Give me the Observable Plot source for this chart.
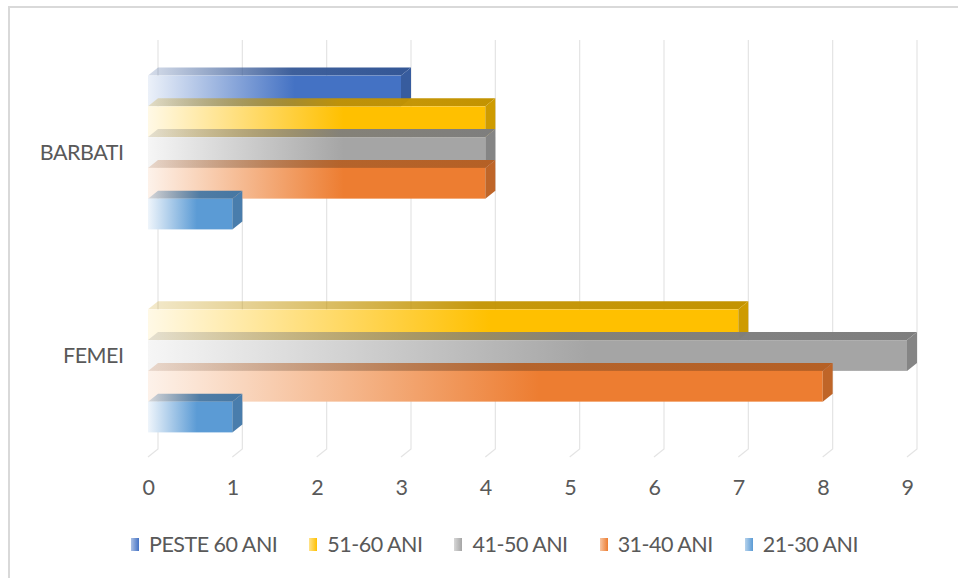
<!DOCTYPE html>
<html><head><meta charset="utf-8">
<script src="https://cdn.jsdelivr.net/npm/d3@7"></script>
<script src="https://cdn.jsdelivr.net/npm/@observablehq/plot@0.6"></script>
<style>
body{margin:0;background:#fff;}
#wrap{position:relative;width:958px;height:578px;overflow:hidden;font-family:Lato,"Open Sans",sans-serif;color:#595959;}
#border{position:absolute;left:8px;top:6px;width:1000px;height:1000px;border-left:2px solid #d9d9d9;border-top:2px solid #d9d9d9;}
#chart{position:absolute;left:0;top:0;}
#legend{position:absolute;left:131px;top:531px;display:flex;align-items:center;font-size:21.5px;letter-spacing:-0.5px;line-height:26px;white-space:nowrap;}
.item{display:flex;align-items:center;margin-right:32px;}
.sw{width:8px;height:13px;margin-right:10px;}
</style></head><body>
<div id="wrap"><div id="border"></div><div id="chart"></div><div id="legend"></div></div>
<script>
const groups = ["BARBATI", "FEMEI"];
const seriesNames = ["PESTE 60 ANI", "51-60 ANI", "41-50 ANI", "31-40 ANI", "21-30 ANI"];
const seriesColors = ["#4472C4", "#FFC000", "#A5A5A5", "#ED7D31", "#5B9BD5"];
const barbatiValues = [3, 4, 4, 4, 1];
const femeiValues = [0, 7, 9, 8, 1];
const xTicks = [0, 1, 2, 3, 4, 5, 6, 7, 8, 9];

const valuesByGroup = [barbatiValues, femeiValues];
const data = [];
groups.forEach((g, gi) => seriesNames.forEach((s, si) => data.push({group: g, series: s, value: valuesByGroup[gi][si]})));

const mix = (c, t) => d3.interpolateRgb("#ffffff", c)(t);
const shade = (c, a = 0.75) => d3.color(c).darker(a).formatHex();
const DX = 10, DY = -8;

const grid = Plot.ruleX(xTicks, {
  x: d => d,
  render(index, scales, values, dims) {
    const top = dims.marginTop, bottom = dims.height - dims.marginBottom;
    const g = d3.create("svg:g").attr("stroke", "#e4e4e4").attr("fill", "none").attr("stroke-width", 1.2);
    for (const i of index) {
      const x = values.x[i];
      g.append("path").attr("d", `M${x + DX},${top + DY - 2}V${bottom + DY}L${x},${bottom}`);
    }
    return g.node();
  }
});

const bars = Plot.barX(data, {
  x1: d => 0,
  x2: "value",
  y: "group",
  render(index, scales, values, dims) {
    const g = d3.create("svg:g");
    const defs = g.append("defs");
    seriesColors.forEach((c, k) => {
      const f = defs.append("linearGradient").attr("id", `front${k}`).attr("x1", 0).attr("x2", 1).attr("y1", 0).attr("y2", 0);
      f.append("stop").attr("offset", 0).attr("stop-color", mix(c, 0.1));
      f.append("stop").attr("offset", 0.58).attr("stop-color", c);
      f.append("stop").attr("offset", 1).attr("stop-color", c);
      const t = defs.append("linearGradient").attr("id", `top${k}`).attr("x1", 0).attr("x2", 1).attr("y1", 0).attr("y2", 0);
      t.append("stop").attr("offset", 0).attr("stop-color", shade(c)).attr("stop-opacity", 0.2);
      t.append("stop").attr("offset", 0.55).attr("stop-color", shade(c)).attr("stop-opacity", 0.95);
      t.append("stop").attr("offset", 1).attr("stop-color", shade(c)).attr("stop-opacity", 1);
    });
    const bw = typeof scales.y.bandwidth === "function"
      ? scales.y.bandwidth()
      : (dims.height - dims.marginTop - dims.marginBottom) / groups.length;
    for (const i of index) {
      const d = data[i];
      if (!d.value) continue;
      const k = seriesNames.indexOf(d.series);
      const inner = d3.scaleBand().domain(seriesNames).range([values.y[i], values.y[i] + bw]).paddingInner(0).paddingOuter(0.8);
      const y0 = inner(d.series), h = inner.bandwidth();
      const x0 = values.x1[i], x1 = values.x2[i];
      g.append("path").attr("d", `M${x0},${y0}L${x0 + DX},${y0 + DY}L${x1 + DX},${y0 + DY}L${x1},${y0}Z`).attr("fill", `url(#top${k})`);
      g.append("rect").attr("x", x0).attr("y", y0).attr("width", x1 - x0).attr("height", h).attr("fill", `url(#front${k})`);
      g.append("path").attr("d", `M${x1},${y0}L${x1 + DX},${y0 + DY}L${x1 + DX},${y0 + h + DY}L${x1},${y0 + h}Z`).attr("fill", shade(seriesColors[k], 0.6));
    }
    return g.node();
  }
});

const plot = Plot.plot({
  width: 958,
  height: 510,
  marginLeft: 148,
  marginRight: 51,
  marginTop: 50,
  marginBottom: 53,
  style: {fontFamily: 'Lato,"Open Sans",sans-serif', fontSize: "21.5px", letterSpacing: "-0.5px", color: "#595959", background: "transparent"},
  x: {domain: [0, 9], ticks: xTicks, tickSize: 0, tickPadding: 22, label: null},
  y: {domain: groups, padding: 0, tickSize: 0, tickPadding: 25, label: null},
  marks: [grid, bars]
});
document.getElementById("chart").appendChild(plot);

const legend = d3.select("#legend");
seriesNames.forEach((s, k) => {
  const it = legend.append("div").attr("class", "item");
  it.append("div").attr("class", "sw").style("background", `linear-gradient(to right, ${mix(seriesColors[k], 0.45)}, ${seriesColors[k]})`);
  it.append("span").text(s);
});
</script>
</body></html>
